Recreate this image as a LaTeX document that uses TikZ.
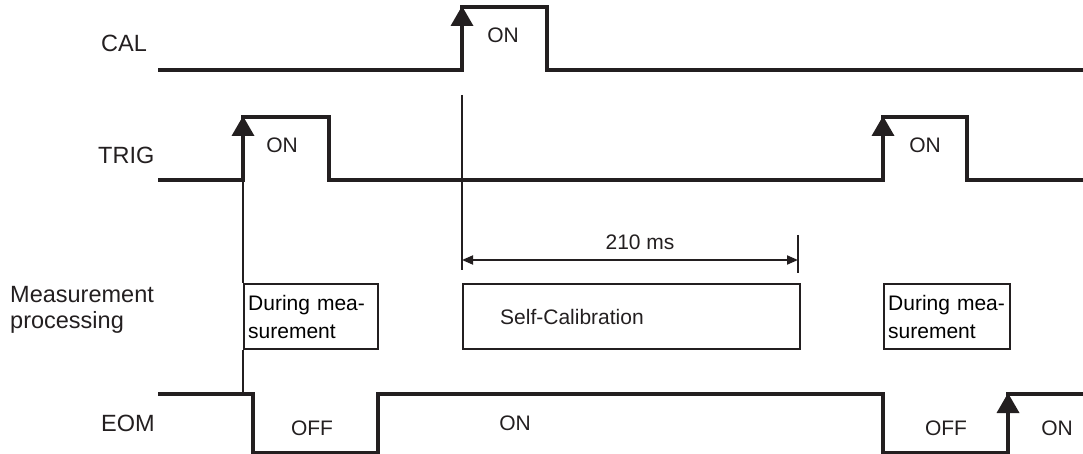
\documentclass[tikz,border=0pt]{standalone}
\usepackage{fontspec}
\setmainfont{Liberation Sans}
\usepackage{xcolor}
\definecolor{ink}{HTML}{231F20}
\usepackage{tikz}
\usetikzlibrary{arrows.meta, positioning, calc}

\tikzset{
  signal/.style={ink, line width=3.6pt, line join=miter},
  edgearrow/.style={ink, line width=3.6pt, -{Triangle[length=20pt, width=22pt]}},
  guide/.style={ink, line width=1.8pt},
  dimline/.style={ink, line width=1.8pt, {Triangle[length=11pt, width=9pt]}-{Triangle[length=11pt, width=9pt]}},
  procbox/.style={draw=ink, line width=2.4pt, inner sep=0pt, anchor=north west, minimum height=65pt, align=left},
  siglabel/.style={ink, inner sep=0pt, anchor=base west, font=\fontsize{23.5}{26}\selectfont},
  lbl/.style={ink, inner sep=0pt},
}

\begin{document}
\begin{tikzpicture}[x=1pt, y=-1pt, font=\fontsize{21}{28}\selectfont]
  \useasboundingbox (0,0) rectangle (1083,454);
  \node[siglabel] (cal)  at (101,51.4)  {CAL};
  \node[siglabel] (trig) at (98,163.4)  {TRIG};
  \node[siglabel] (meas) at (10,302)    {Measurement};
  \node[siglabel] (proc) at (10,328)    {processing};
  \node[siglabel] (eom)  at (101,431.4) {EOM};

  \draw[signal] (158,70) -- (462,70) -- (462,7) -- (547,7) -- (547,70) -- (1083,70);
  \draw[signal] (158,180) -- (243,180) -- (243,117) -- (329,117) -- (329,180)
    -- (883,180) -- (883,117) -- (967,117) -- (967,180) -- (1083,180);
  \draw[signal] (158,394) -- (253,394) -- (253,453) -- (378,453) -- (378,394)
    -- (883,394) -- (883,453) -- (1008,453) -- (1008,394) -- (1083,394);

  \draw[edgearrow] (462,70) -- (462,6);
  \draw[edgearrow] (243,180) -- (243,116);
  \draw[edgearrow] (883,180) -- (883,116);
  \draw[edgearrow] (1008,453) -- (1008,393);

  \node[lbl] (calon)   at (503,35)  {ON};
  \node[lbl] (trigon1) at (282,145) {ON};
  \node[lbl] (trigon2) at (925,145) {ON};
  \node[lbl] (eomoff1) at (312,428) {OFF};
  \node[lbl] (eomon1)  at (515,423) {ON};
  \node[lbl] (eomoff2) at (946,428) {OFF};
  \node[lbl] (eomon2)  at (1057,428) {ON};

  \node[procbox, minimum width=134pt, text width=126pt] (meas1) at (243,283) {During mea-\\surement};
  \node[procbox, minimum width=337pt] (selfcal) at (462,283) {};
  \node[lbl, anchor=west] (selfcaltext) at (500,317) {Self-Calibration};
  \node[procbox, minimum width=126pt, text width=118pt] (meas2) at (883,283) {During mea-\\surement};

  \coordinate (trigtop) at (243,117);
  \draw[guide] (trigtop) -- (meas1.north west);
  \draw[guide] (meas1.south west) -- (243,394);

  \coordinate (calstart) at (462,95);
  \coordinate (calend) at (462,270);
  \coordinate (dimtop) at (798,235);
  \coordinate (dimbot) at (798,273);
  \draw[guide] (calstart) -- (calend);
  \draw[guide] (dimtop) -- (dimbot);
  \draw[dimline] (462,260) -- (798,260);
  \node[lbl] (dur) at (640,242) {210 ms};
\end{tikzpicture}
\end{document}
